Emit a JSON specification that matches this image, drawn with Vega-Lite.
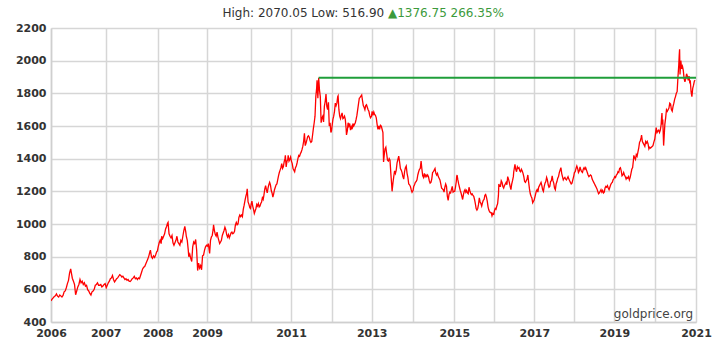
{
  "$schema": "https://vega.github.io/schema/vega-lite/v6.json",
  "autosize": {"type": "none"},
  "padding": {"left": 51, "top": 28, "right": 20, "bottom": 30},
  "width": 645,
  "height": 294,
  "background": "white",
  "config": {
    "view": {"stroke": null},
    "font": "DejaVu Sans",
    "axis": {"labelFont": "DejaVu Sans", "labelFontSize": 11, "labelFontWeight": "bold", "labelColor": "#333333", "gridColor": "#d6d6d6", "gridWidth": 1.5, "domainColor": "#cfcfcf", "domainWidth": 1.5, "ticks": false, "title": null, "labelOverlap": false}
  },
  "datasets": {
    "gold": [
      {"t":2006.00,"p":530},{"t":2006.02,"p":540},{"t":2006.04,"p":548},{"t":2006.06,"p":556},{"t":2006.08,"p":560},{"t":2006.10,"p":572},{"t":2006.12,"p":558},{"t":2006.14,"p":553},{"t":2006.16,"p":565},{"t":2006.18,"p":560},{"t":2006.20,"p":553},{"t":2006.22,"p":563},{"t":2006.24,"p":585},{"t":2006.26,"p":590},{"t":2006.28,"p":610},{"t":2006.30,"p":635},{"t":2006.32,"p":655},{"t":2006.34,"p":700},{"t":2006.36,"p":725},{"t":2006.37,"p":705},{"t":2006.39,"p":668},{"t":2006.41,"p":650},{"t":2006.43,"p":630},{"t":2006.45,"p":567},{"t":2006.47,"p":590},{"t":2006.49,"p":615},{"t":2006.51,"p":630},{"t":2006.53,"p":660},{"t":2006.55,"p":640},{"t":2006.57,"p":650},{"t":2006.59,"p":630},{"t":2006.61,"p":640},{"t":2006.63,"p":620},{"t":2006.65,"p":625},{"t":2006.67,"p":598},{"t":2006.69,"p":590},{"t":2006.71,"p":575},{"t":2006.73,"p":565},{"t":2006.75,"p":585},{"t":2006.77,"p":590},{"t":2006.79,"p":600},{"t":2006.81,"p":625},{"t":2006.83,"p":630},{"t":2006.85,"p":640},{"t":2006.87,"p":625},{"t":2006.89,"p":625},{"t":2006.91,"p":630},{"t":2006.93,"p":615},{"t":2006.95,"p":620},{"t":2006.97,"p":630},{"t":2006.99,"p":635},
      {"t":2007.01,"p":610},{"t":2007.03,"p":625},{"t":2007.05,"p":640},{"t":2007.07,"p":650},{"t":2007.09,"p":665},{"t":2007.11,"p":670},{"t":2007.13,"p":685},{"t":2007.15,"p":660},{"t":2007.17,"p":645},{"t":2007.19,"p":655},{"t":2007.21,"p":665},{"t":2007.23,"p":670},{"t":2007.25,"p":680},{"t":2007.27,"p":690},{"t":2007.29,"p":685},{"t":2007.31,"p":675},{"t":2007.33,"p":680},{"t":2007.35,"p":670},{"t":2007.37,"p":660},{"t":2007.39,"p":665},{"t":2007.41,"p":655},{"t":2007.43,"p":660},{"t":2007.45,"p":650},{"t":2007.47,"p":648},{"t":2007.49,"p":655},{"t":2007.51,"p":665},{"t":2007.53,"p":670},{"t":2007.55,"p":680},{"t":2007.57,"p":665},{"t":2007.59,"p":670},{"t":2007.61,"p":660},{"t":2007.63,"p":670},{"t":2007.65,"p":665},{"t":2007.67,"p":685},{"t":2007.69,"p":705},{"t":2007.71,"p":725},{"t":2007.73,"p":735},{"t":2007.75,"p":740},{"t":2007.77,"p":755},{"t":2007.79,"p":770},{"t":2007.81,"p":785},{"t":2007.83,"p":805},{"t":2007.85,"p":830},{"t":2007.86,"p":840},{"t":2007.88,"p":800},{"t":2007.90,"p":790},{"t":2007.92,"p":805},{"t":2007.94,"p":795},{"t":2007.96,"p":810},{"t":2007.98,"p":830},{"t":2007.995,"p":835},
      {"t":2008.01,"p":860},{"t":2008.03,"p":885},{"t":2008.05,"p":900},{"t":2008.07,"p":880},{"t":2008.08,"p":925},{"t":2008.10,"p":910},{"t":2008.12,"p":925},{"t":2008.14,"p":940},{"t":2008.16,"p":970},{"t":2008.18,"p":985},{"t":2008.20,"p":1005},{"t":2008.21,"p":1010},{"t":2008.23,"p":940},{"t":2008.25,"p":925},{"t":2008.27,"p":915},{"t":2008.29,"p":930},{"t":2008.31,"p":885},{"t":2008.33,"p":870},{"t":2008.35,"p":885},{"t":2008.37,"p":900},{"t":2008.39,"p":925},{"t":2008.41,"p":890},{"t":2008.43,"p":880},{"t":2008.45,"p":870},{"t":2008.47,"p":900},{"t":2008.49,"p":890},{"t":2008.51,"p":925},{"t":2008.53,"p":960},{"t":2008.55,"p":985},{"t":2008.57,"p":950},{"t":2008.58,"p":925},{"t":2008.60,"p":900},{"t":2008.62,"p":840},{"t":2008.63,"p":800},{"t":2008.65,"p":815},{"t":2008.67,"p":790},{"t":2008.69,"p":770},{"t":2008.71,"p":860},{"t":2008.73,"p":890},{"t":2008.75,"p":880},{"t":2008.77,"p":905},{"t":2008.79,"p":840},{"t":2008.81,"p":715},{"t":2008.83,"p":760},{"t":2008.85,"p":730},{"t":2008.87,"p":745},{"t":2008.89,"p":720},{"t":2008.91,"p":805},{"t":2008.93,"p":810},{"t":2008.95,"p":840},{"t":2008.97,"p":860},{"t":2008.99,"p":870},
      {"t":2009.01,"p":865},{"t":2009.03,"p":880},{"t":2009.05,"p":840},{"t":2009.06,"p":820},{"t":2009.08,"p":900},{"t":2009.10,"p":920},{"t":2009.12,"p":930},{"t":2009.14,"p":965},{"t":2009.15,"p":995},{"t":2009.17,"p":960},{"t":2009.19,"p":935},{"t":2009.21,"p":925},{"t":2009.23,"p":950},{"t":2009.25,"p":920},{"t":2009.27,"p":900},{"t":2009.29,"p":880},{"t":2009.31,"p":890},{"t":2009.33,"p":900},{"t":2009.35,"p":930},{"t":2009.37,"p":945},{"t":2009.39,"p":960},{"t":2009.41,"p":980},{"t":2009.43,"p":965},{"t":2009.45,"p":935},{"t":2009.47,"p":920},{"t":2009.49,"p":935},{"t":2009.51,"p":915},{"t":2009.53,"p":930},{"t":2009.55,"p":945},{"t":2009.57,"p":950},{"t":2009.59,"p":940},{"t":2009.61,"p":945},{"t":2009.63,"p":955},{"t":2009.65,"p":995},{"t":2009.67,"p":1010},{"t":2009.69,"p":995},{"t":2009.71,"p":1000},{"t":2009.73,"p":1040},{"t":2009.75,"p":1055},{"t":2009.77,"p":1045},{"t":2009.79,"p":1055},{"t":2009.81,"p":1045},{"t":2009.83,"p":1090},{"t":2009.85,"p":1115},{"t":2009.87,"p":1145},{"t":2009.89,"p":1170},{"t":2009.91,"p":1190},{"t":2009.92,"p":1215},{"t":2009.94,"p":1135},{"t":2009.96,"p":1120},{"t":2009.98,"p":1100},{"t":2009.995,"p":1095},
      {"t":2010.01,"p":1120},{"t":2010.03,"p":1140},{"t":2010.05,"p":1110},{"t":2010.07,"p":1090},{"t":2010.09,"p":1065},{"t":2010.11,"p":1080},{"t":2010.13,"p":1095},{"t":2010.15,"p":1120},{"t":2010.17,"p":1110},{"t":2010.19,"p":1125},{"t":2010.21,"p":1105},{"t":2010.23,"p":1110},{"t":2010.25,"p":1125},{"t":2010.27,"p":1135},{"t":2010.29,"p":1160},{"t":2010.31,"p":1150},{"t":2010.33,"p":1180},{"t":2010.35,"p":1215},{"t":2010.37,"p":1235},{"t":2010.39,"p":1210},{"t":2010.41,"p":1190},{"t":2010.43,"p":1220},{"t":2010.45,"p":1240},{"t":2010.47,"p":1255},{"t":2010.49,"p":1240},{"t":2010.51,"p":1205},{"t":2010.53,"p":1190},{"t":2010.55,"p":1165},{"t":2010.57,"p":1185},{"t":2010.59,"p":1210},{"t":2010.61,"p":1225},{"t":2010.63,"p":1240},{"t":2010.65,"p":1245},{"t":2010.67,"p":1270},{"t":2010.69,"p":1295},{"t":2010.71,"p":1315},{"t":2010.73,"p":1330},{"t":2010.75,"p":1345},{"t":2010.77,"p":1370},{"t":2010.79,"p":1340},{"t":2010.81,"p":1350},{"t":2010.83,"p":1380},{"t":2010.85,"p":1400},{"t":2010.86,"p":1420},{"t":2010.88,"p":1350},{"t":2010.90,"p":1385},{"t":2010.92,"p":1395},{"t":2010.93,"p":1420},{"t":2010.95,"p":1385},{"t":2010.97,"p":1395},{"t":2010.99,"p":1410},
      {"t":2011.01,"p":1385},{"t":2011.03,"p":1370},{"t":2011.05,"p":1340},{"t":2011.07,"p":1330},{"t":2011.09,"p":1320},{"t":2011.11,"p":1345},{"t":2011.13,"p":1355},{"t":2011.15,"p":1375},{"t":2011.17,"p":1400},{"t":2011.19,"p":1420},{"t":2011.21,"p":1415},{"t":2011.23,"p":1430},{"t":2011.25,"p":1440},{"t":2011.27,"p":1455},{"t":2011.29,"p":1475},{"t":2011.31,"p":1505},{"t":2011.33,"p":1555},{"t":2011.35,"p":1480},{"t":2011.37,"p":1495},{"t":2011.39,"p":1515},{"t":2011.41,"p":1535},{"t":2011.43,"p":1540},{"t":2011.45,"p":1530},{"t":2011.47,"p":1510},{"t":2011.49,"p":1500},{"t":2011.51,"p":1505},{"t":2011.53,"p":1545},{"t":2011.55,"p":1585},{"t":2011.57,"p":1620},{"t":2011.59,"p":1660},{"t":2011.61,"p":1780},{"t":2011.63,"p":1830},{"t":2011.64,"p":1880},{"t":2011.66,"p":1770},{"t":2011.68,"p":1895},{"t":2011.70,"p":1820},{"t":2011.72,"p":1780},{"t":2011.74,"p":1620},{"t":2011.76,"p":1650},{"t":2011.78,"p":1660},{"t":2011.80,"p":1625},{"t":2011.82,"p":1720},{"t":2011.84,"p":1750},{"t":2011.86,"p":1795},{"t":2011.88,"p":1720},{"t":2011.90,"p":1700},{"t":2011.92,"p":1745},{"t":2011.94,"p":1600},{"t":2011.96,"p":1620},{"t":2011.98,"p":1560},{"t":2011.995,"p":1570},
      {"t":2012.01,"p":1600},{"t":2012.03,"p":1640},{"t":2012.05,"p":1660},{"t":2012.07,"p":1690},{"t":2012.09,"p":1740},{"t":2012.11,"p":1725},{"t":2012.13,"p":1740},{"t":2012.15,"p":1780},{"t":2012.16,"p":1785},{"t":2012.18,"p":1700},{"t":2012.20,"p":1660},{"t":2012.22,"p":1645},{"t":2012.24,"p":1665},{"t":2012.26,"p":1680},{"t":2012.28,"p":1645},{"t":2012.30,"p":1650},{"t":2012.32,"p":1660},{"t":2012.34,"p":1640},{"t":2012.36,"p":1585},{"t":2012.37,"p":1545},{"t":2012.39,"p":1570},{"t":2012.41,"p":1620},{"t":2012.43,"p":1600},{"t":2012.45,"p":1615},{"t":2012.47,"p":1575},{"t":2012.49,"p":1595},{"t":2012.51,"p":1580},{"t":2012.53,"p":1615},{"t":2012.55,"p":1600},{"t":2012.57,"p":1610},{"t":2012.59,"p":1620},{"t":2012.61,"p":1640},{"t":2012.63,"p":1665},{"t":2012.65,"p":1700},{"t":2012.67,"p":1735},{"t":2012.69,"p":1770},{"t":2012.71,"p":1775},{"t":2012.75,"p":1790},{"t":2012.77,"p":1755},{"t":2012.79,"p":1725},{"t":2012.81,"p":1715},{"t":2012.83,"p":1700},{"t":2012.85,"p":1725},{"t":2012.87,"p":1730},{"t":2012.89,"p":1715},{"t":2012.91,"p":1700},{"t":2012.93,"p":1690},{"t":2012.95,"p":1665},{"t":2012.97,"p":1650},{"t":2012.995,"p":1660},
      {"t":2013.01,"p":1690},{"t":2013.03,"p":1665},{"t":2013.05,"p":1685},{"t":2013.07,"p":1670},{"t":2013.09,"p":1665},{"t":2013.11,"p":1650},{"t":2013.13,"p":1610},{"t":2013.15,"p":1580},{"t":2013.17,"p":1600},{"t":2013.19,"p":1580},{"t":2013.21,"p":1605},{"t":2013.23,"p":1600},{"t":2013.25,"p":1580},{"t":2013.27,"p":1560},{"t":2013.285,"p":1380},{"t":2013.30,"p":1420},{"t":2013.32,"p":1460},{"t":2013.34,"p":1470},{"t":2013.36,"p":1430},{"t":2013.38,"p":1390},{"t":2013.40,"p":1385},{"t":2013.42,"p":1400},{"t":2013.44,"p":1390},{"t":2013.46,"p":1310},{"t":2013.48,"p":1240},{"t":2013.49,"p":1200},{"t":2013.51,"p":1250},{"t":2013.53,"p":1290},{"t":2013.55,"p":1325},{"t":2013.57,"p":1310},{"t":2013.59,"p":1330},{"t":2013.61,"p":1375},{"t":2013.63,"p":1395},{"t":2013.65,"p":1415},{"t":2013.67,"p":1380},{"t":2013.69,"p":1340},{"t":2013.71,"p":1330},{"t":2013.73,"p":1315},{"t":2013.75,"p":1290},{"t":2013.77,"p":1275},{"t":2013.79,"p":1320},{"t":2013.81,"p":1345},{"t":2013.83,"p":1355},{"t":2013.85,"p":1310},{"t":2013.87,"p":1285},{"t":2013.89,"p":1245},{"t":2013.91,"p":1240},{"t":2013.93,"p":1230},{"t":2013.95,"p":1210},{"t":2013.97,"p":1195},{"t":2013.995,"p":1205},
      {"t":2014.01,"p":1230},{"t":2014.03,"p":1240},{"t":2014.05,"p":1255},{"t":2014.07,"p":1260},{"t":2014.09,"p":1270},{"t":2014.11,"p":1300},{"t":2014.13,"p":1320},{"t":2014.15,"p":1335},{"t":2014.17,"p":1340},{"t":2014.19,"p":1385},{"t":2014.21,"p":1335},{"t":2014.23,"p":1295},{"t":2014.25,"p":1285},{"t":2014.27,"p":1310},{"t":2014.29,"p":1290},{"t":2014.31,"p":1300},{"t":2014.33,"p":1290},{"t":2014.35,"p":1300},{"t":2014.37,"p":1290},{"t":2014.39,"p":1265},{"t":2014.41,"p":1250},{"t":2014.43,"p":1255},{"t":2014.45,"p":1275},{"t":2014.47,"p":1315},{"t":2014.49,"p":1320},{"t":2014.51,"p":1330},{"t":2014.53,"p":1340},{"t":2014.55,"p":1310},{"t":2014.57,"p":1300},{"t":2014.59,"p":1310},{"t":2014.61,"p":1290},{"t":2014.63,"p":1280},{"t":2014.65,"p":1270},{"t":2014.67,"p":1245},{"t":2014.69,"p":1220},{"t":2014.71,"p":1215},{"t":2014.73,"p":1210},{"t":2014.75,"p":1195},{"t":2014.77,"p":1225},{"t":2014.79,"p":1245},{"t":2014.81,"p":1230},{"t":2014.83,"p":1170},{"t":2014.85,"p":1145},{"t":2014.87,"p":1180},{"t":2014.89,"p":1195},{"t":2014.91,"p":1190},{"t":2014.93,"p":1210},{"t":2014.95,"p":1230},{"t":2014.97,"p":1195},{"t":2014.99,"p":1200},
      {"t":2015.01,"p":1200},{"t":2015.03,"p":1225},{"t":2015.05,"p":1260},{"t":2015.06,"p":1290},{"t":2015.07,"p":1300},{"t":2015.09,"p":1270},{"t":2015.11,"p":1245},{"t":2015.13,"p":1225},{"t":2015.15,"p":1205},{"t":2015.17,"p":1190},{"t":2015.19,"p":1170},{"t":2015.21,"p":1150},{"t":2015.23,"p":1180},{"t":2015.25,"p":1200},{"t":2015.27,"p":1210},{"t":2015.29,"p":1195},{"t":2015.31,"p":1205},{"t":2015.33,"p":1190},{"t":2015.35,"p":1185},{"t":2015.37,"p":1225},{"t":2015.39,"p":1205},{"t":2015.41,"p":1190},{"t":2015.43,"p":1180},{"t":2015.45,"p":1185},{"t":2015.47,"p":1175},{"t":2015.49,"p":1170},{"t":2015.51,"p":1150},{"t":2015.53,"p":1125},{"t":2015.55,"p":1095},{"t":2015.57,"p":1085},{"t":2015.59,"p":1095},{"t":2015.61,"p":1120},{"t":2015.63,"p":1160},{"t":2015.65,"p":1135},{"t":2015.67,"p":1125},{"t":2015.69,"p":1110},{"t":2015.71,"p":1130},{"t":2015.73,"p":1145},{"t":2015.75,"p":1150},{"t":2015.77,"p":1175},{"t":2015.79,"p":1180},{"t":2015.81,"p":1165},{"t":2015.83,"p":1140},{"t":2015.85,"p":1105},{"t":2015.87,"p":1085},{"t":2015.89,"p":1075},{"t":2015.91,"p":1070},{"t":2015.93,"p":1070},{"t":2015.95,"p":1050},{"t":2015.97,"p":1065},{"t":2015.995,"p":1060},
      {"t":2016.01,"p":1080},{"t":2016.03,"p":1095},{"t":2016.05,"p":1090},{"t":2016.07,"p":1110},{"t":2016.09,"p":1125},{"t":2016.11,"p":1175},{"t":2016.12,"p":1245},{"t":2016.14,"p":1230},{"t":2016.16,"p":1230},{"t":2016.18,"p":1265},{"t":2016.20,"p":1255},{"t":2016.22,"p":1230},{"t":2016.24,"p":1220},{"t":2016.26,"p":1235},{"t":2016.28,"p":1245},{"t":2016.30,"p":1255},{"t":2016.32,"p":1240},{"t":2016.34,"p":1290},{"t":2016.36,"p":1275},{"t":2016.38,"p":1255},{"t":2016.40,"p":1230},{"t":2016.42,"p":1210},{"t":2016.44,"p":1245},{"t":2016.46,"p":1265},{"t":2016.48,"p":1290},{"t":2016.49,"p":1320},{"t":2016.51,"p":1350},{"t":2016.52,"p":1365},{"t":2016.54,"p":1335},{"t":2016.56,"p":1320},{"t":2016.58,"p":1350},{"t":2016.60,"p":1340},{"t":2016.62,"p":1345},{"t":2016.64,"p":1325},{"t":2016.66,"p":1320},{"t":2016.68,"p":1335},{"t":2016.70,"p":1325},{"t":2016.72,"p":1310},{"t":2016.74,"p":1290},{"t":2016.76,"p":1260},{"t":2016.78,"p":1255},{"t":2016.80,"p":1265},{"t":2016.82,"p":1275},{"t":2016.84,"p":1300},{"t":2016.86,"p":1255},{"t":2016.88,"p":1215},{"t":2016.90,"p":1185},{"t":2016.92,"p":1170},{"t":2016.94,"p":1160},{"t":2016.96,"p":1130},{"t":2016.98,"p":1140},{"t":2016.995,"p":1145},
      {"t":2017.01,"p":1160},{"t":2017.03,"p":1180},{"t":2017.05,"p":1200},{"t":2017.07,"p":1210},{"t":2017.09,"p":1195},{"t":2017.11,"p":1225},{"t":2017.13,"p":1235},{"t":2017.15,"p":1245},{"t":2017.17,"p":1255},{"t":2017.19,"p":1235},{"t":2017.21,"p":1210},{"t":2017.23,"p":1200},{"t":2017.25,"p":1230},{"t":2017.27,"p":1250},{"t":2017.29,"p":1260},{"t":2017.31,"p":1285},{"t":2017.33,"p":1270},{"t":2017.35,"p":1240},{"t":2017.37,"p":1225},{"t":2017.39,"p":1230},{"t":2017.41,"p":1260},{"t":2017.43,"p":1265},{"t":2017.45,"p":1295},{"t":2017.47,"p":1265},{"t":2017.49,"p":1250},{"t":2017.51,"p":1220},{"t":2017.53,"p":1210},{"t":2017.55,"p":1245},{"t":2017.57,"p":1260},{"t":2017.59,"p":1280},{"t":2017.61,"p":1290},{"t":2017.63,"p":1315},{"t":2017.65,"p":1330},{"t":2017.67,"p":1345},{"t":2017.69,"p":1310},{"t":2017.71,"p":1290},{"t":2017.73,"p":1270},{"t":2017.75,"p":1280},{"t":2017.77,"p":1285},{"t":2017.79,"p":1275},{"t":2017.81,"p":1270},{"t":2017.83,"p":1280},{"t":2017.85,"p":1290},{"t":2017.87,"p":1275},{"t":2017.89,"p":1265},{"t":2017.91,"p":1255},{"t":2017.93,"p":1245},{"t":2017.95,"p":1250},{"t":2017.97,"p":1270},{"t":2017.995,"p":1295},
      {"t":2018.01,"p":1315},{"t":2018.03,"p":1320},{"t":2018.05,"p":1340},{"t":2018.07,"p":1355},{"t":2018.09,"p":1340},{"t":2018.11,"p":1315},{"t":2018.13,"p":1325},{"t":2018.15,"p":1350},{"t":2018.17,"p":1330},{"t":2018.19,"p":1320},{"t":2018.21,"p":1315},{"t":2018.23,"p":1335},{"t":2018.25,"p":1345},{"t":2018.27,"p":1335},{"t":2018.29,"p":1345},{"t":2018.31,"p":1330},{"t":2018.33,"p":1315},{"t":2018.35,"p":1300},{"t":2018.37,"p":1290},{"t":2018.39,"p":1295},{"t":2018.41,"p":1300},{"t":2018.43,"p":1295},{"t":2018.45,"p":1275},{"t":2018.47,"p":1265},{"t":2018.49,"p":1255},{"t":2018.51,"p":1245},{"t":2018.53,"p":1235},{"t":2018.55,"p":1225},{"t":2018.57,"p":1215},{"t":2018.59,"p":1200},{"t":2018.61,"p":1185},{"t":2018.63,"p":1190},{"t":2018.65,"p":1200},{"t":2018.67,"p":1210},{"t":2018.69,"p":1195},{"t":2018.71,"p":1205},{"t":2018.73,"p":1190},{"t":2018.75,"p":1195},{"t":2018.77,"p":1220},{"t":2018.79,"p":1230},{"t":2018.81,"p":1225},{"t":2018.83,"p":1235},{"t":2018.85,"p":1220},{"t":2018.87,"p":1210},{"t":2018.89,"p":1225},{"t":2018.91,"p":1240},{"t":2018.93,"p":1250},{"t":2018.95,"p":1255},{"t":2018.97,"p":1270},{"t":2018.995,"p":1280},
      {"t":2019.01,"p":1290},{"t":2019.03,"p":1285},{"t":2019.05,"p":1300},{"t":2019.07,"p":1305},{"t":2019.09,"p":1320},{"t":2019.11,"p":1315},{"t":2019.13,"p":1340},{"t":2019.15,"p":1345},{"t":2019.17,"p":1325},{"t":2019.19,"p":1295},{"t":2019.21,"p":1300},{"t":2019.23,"p":1315},{"t":2019.25,"p":1300},{"t":2019.27,"p":1290},{"t":2019.29,"p":1275},{"t":2019.31,"p":1285},{"t":2019.33,"p":1280},{"t":2019.35,"p":1290},{"t":2019.37,"p":1270},{"t":2019.39,"p":1285},{"t":2019.41,"p":1310},{"t":2019.43,"p":1335},{"t":2019.45,"p":1345},{"t":2019.47,"p":1390},{"t":2019.48,"p":1420},{"t":2019.50,"p":1405},{"t":2019.52,"p":1395},{"t":2019.54,"p":1425},{"t":2019.56,"p":1415},{"t":2019.58,"p":1440},{"t":2019.60,"p":1465},{"t":2019.62,"p":1500},{"t":2019.64,"p":1510},{"t":2019.66,"p":1530},{"t":2019.67,"p":1545},{"t":2019.69,"p":1505},{"t":2019.71,"p":1495},{"t":2019.73,"p":1485},{"t":2019.75,"p":1475},{"t":2019.77,"p":1505},{"t":2019.79,"p":1495},{"t":2019.81,"p":1505},{"t":2019.83,"p":1490},{"t":2019.85,"p":1460},{"t":2019.87,"p":1470},{"t":2019.89,"p":1465},{"t":2019.91,"p":1470},{"t":2019.93,"p":1475},{"t":2019.95,"p":1480},{"t":2019.97,"p":1500},{"t":2019.995,"p":1520},
      {"t":2020.01,"p":1550},{"t":2020.02,"p":1570},{"t":2020.03,"p":1590},{"t":2020.05,"p":1560},{"t":2020.07,"p":1570},{"t":2020.09,"p":1575},{"t":2020.11,"p":1560},{"t":2020.13,"p":1575},{"t":2020.15,"p":1610},{"t":2020.16,"p":1650},{"t":2020.17,"p":1680},{"t":2020.18,"p":1610},{"t":2020.19,"p":1640},{"t":2020.20,"p":1560},{"t":2020.21,"p":1480},{"t":2020.22,"p":1520},{"t":2020.24,"p":1610},{"t":2020.26,"p":1650},{"t":2020.28,"p":1700},{"t":2020.30,"p":1690},{"t":2020.32,"p":1700},{"t":2020.34,"p":1710},{"t":2020.36,"p":1740},{"t":2020.38,"p":1735},{"t":2020.40,"p":1700},{"t":2020.42,"p":1690},{"t":2020.44,"p":1720},{"t":2020.46,"p":1740},{"t":2020.48,"p":1765},{"t":2020.50,"p":1780},{"t":2020.52,"p":1800},{"t":2020.54,"p":1810},{"t":2020.56,"p":1900},{"t":2020.58,"p":1975},{"t":2020.59,"p":2030},{"t":2020.60,"p":2070},{"t":2020.61,"p":1915},{"t":2020.62,"p":1960},{"t":2020.63,"p":2000},{"t":2020.65,"p":1950},{"t":2020.67,"p":1965},{"t":2020.69,"p":1940},{"t":2020.71,"p":1890},{"t":2020.73,"p":1870},{"t":2020.75,"p":1890},{"t":2020.77,"p":1920},{"t":2020.79,"p":1905},{"t":2020.81,"p":1880},{"t":2020.83,"p":1905},{"t":2020.85,"p":1860},{"t":2020.86,"p":1880},{"t":2020.88,"p":1810},{"t":2020.90,"p":1780},{"t":2020.92,"p":1830},{"t":2020.94,"p":1850},{"t":2020.96,"p":1875},{"t":2020.98,"p":1880}
    ],
    "high": [{"t": 2011.68, "p": 1895}, {"t": 2021, "p": 1895}],
    "notes": [
      {"t": 2013.30, "p": 2294, "label": "High: 2070.05 Low: 516.90", "kind": "stats"},
      {"t": 2013.39, "p": 2294, "label": "▲1376.75 266.35%", "kind": "change"},
      {"t": 2020.93, "p": 447, "label": "goldprice.org", "kind": "source"}
    ]
  },
  "encoding": {
    "x": {"field": "t", "type": "quantitative",
      "scale": {"domain": [2006,2007,2008,2009,2010,2011,2012,2013,2014,2015,2016,2017,2018,2019,2020,2021],
                "range": [0,54.7,106.7,156,199.7,240,280.7,320.7,362.3,403.3,443,483.3,523,563.3,604,645], "nice": false, "zero": false},
      "axis": {"values": [2006,2007,2008,2009,2010,2011,2012,2013,2014,2015,2016,2017,2018,2019,2020,2021], "format": "d",
               "labelExpr": "(datum.value <= 2009 || datum.value % 2 == 1) ? datum.label : ''",
               "labelOverlap": false, "labelPadding": 5, "labelFlush": false}},
    "y": {"field": "p", "type": "quantitative",
      "scale": {"domain": [400, 2200], "nice": false, "zero": false},
      "axis": {"values": [400,600,800,1000,1200,1400,1600,1800,2000,2200], "format": "d", "labelPadding": 5, "labelOverlap": false, "labelSeparation": 0, "labelBound": false}}
  },
  "layer": [
    {
      "data": {"name": "gold"},
      "mark": {"type": "line", "color": "#ff0000", "strokeWidth": 1.3, "clip": true}
    },
    {
      "data": {"name": "high"},
      "mark": {"type": "line", "color": "#1f9e3a", "strokeWidth": 2}
    },
    {
      "data": {"name": "notes"},
      "transform": [{"filter": "datum.kind == 'stats'"}],
      "mark": {"type": "text", "align": "right", "baseline": "middle", "fontSize": 12, "color": "#333333", "font": "DejaVu Sans"},
      "encoding": {"text": {"field": "label"}}
    },
    {
      "data": {"name": "notes"},
      "transform": [{"filter": "datum.kind == 'change'"}],
      "mark": {"type": "text", "align": "left", "baseline": "middle", "fontSize": 12, "color": "#3c9a3c", "font": "DejaVu Sans"},
      "encoding": {"text": {"field": "label"}}
    },
    {
      "data": {"name": "notes"},
      "transform": [{"filter": "datum.kind == 'source'"}],
      "mark": {"type": "text", "align": "right", "baseline": "middle", "fontSize": 12, "color": "#444444", "font": "DejaVu Sans"},
      "encoding": {"text": {"field": "label"}}
    }
  ]
}
